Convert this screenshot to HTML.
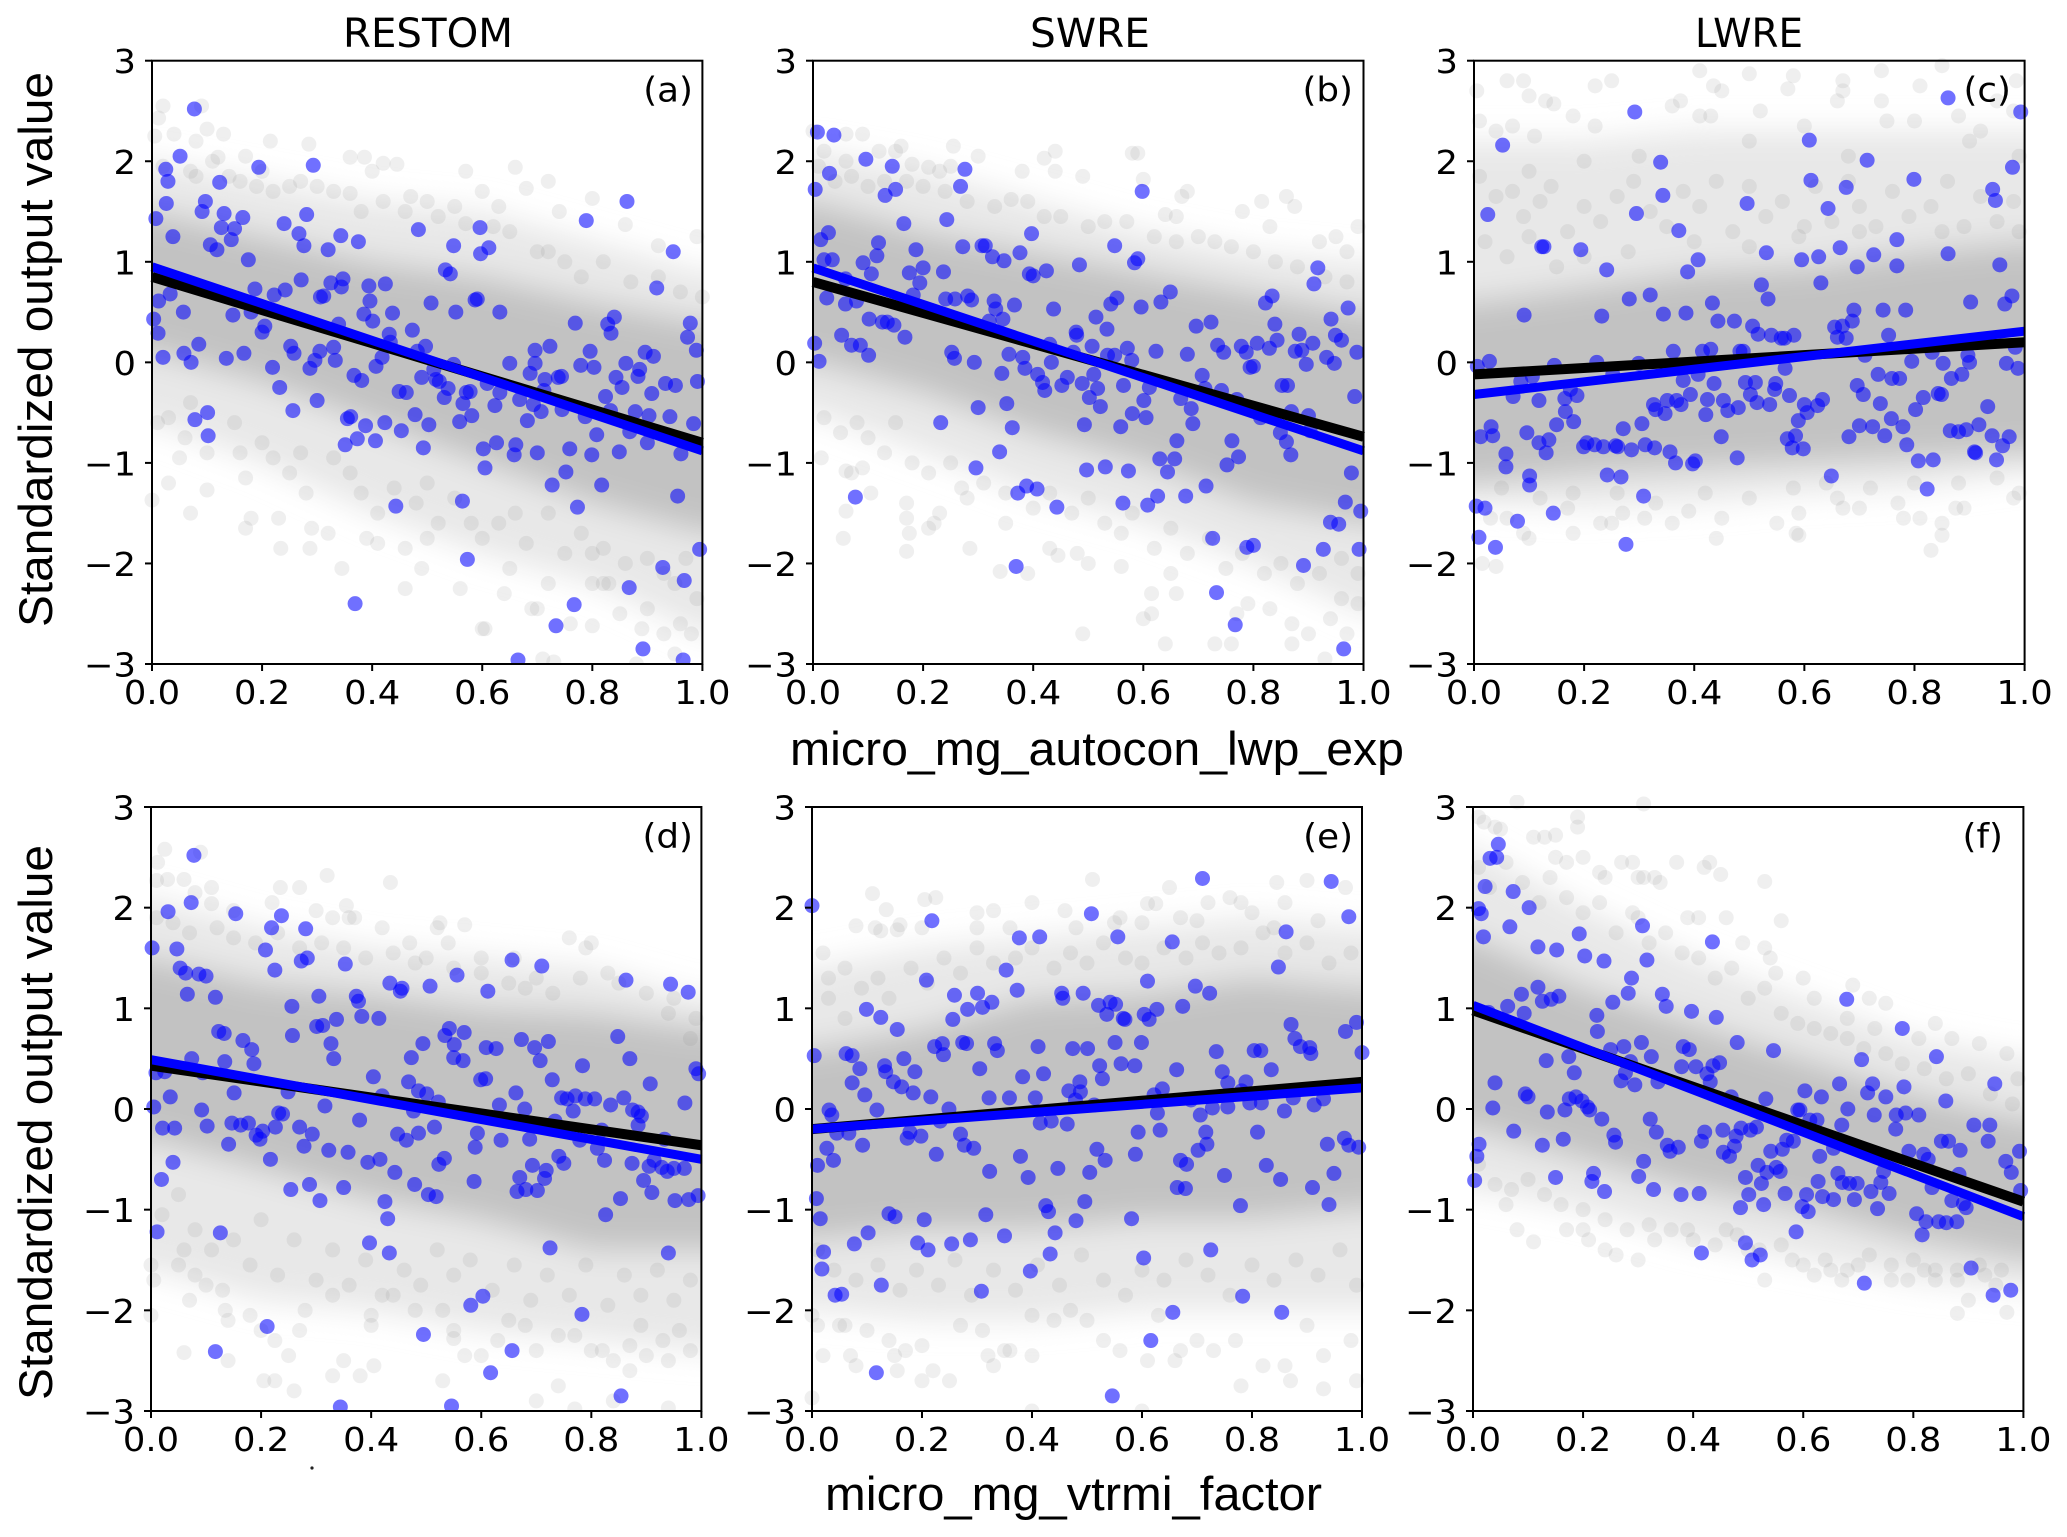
<!DOCTYPE html>
<html lang="en">
<head>
<meta charset="utf-8">
<title>Standardized output value scatter panels</title>
<style>
html,body{margin:0;padding:0;background:#fff;}
svg{display:block;}
text{fill:#000;}
.tick{font-family:"DejaVu Sans","Liberation Sans",sans-serif;font-size:33px;}
.letter{font-family:"DejaVu Sans","Liberation Sans",sans-serif;font-size:34px;}
.title{font-family:"DejaVu Sans","Liberation Sans",sans-serif;font-size:40px;}
.axis{font-family:"Liberation Sans","DejaVu Sans",sans-serif;font-size:47px;}
</style>
</head>
<body>
<svg id="figure" xmlns="http://www.w3.org/2000/svg" width="2067" height="1537" viewBox="0 0 2067 1537">
<defs>
<filter id="soft" filterUnits="userSpaceOnUse" x="0" y="0" width="2067" height="1537"><feGaussianBlur stdDeviation="15"/></filter>
</defs>
<rect width="2067" height="1537" fill="#fff"/>
<g id="panels"></g>
<text class="title" x="343" y="47" textLength="170" lengthAdjust="spacingAndGlyphs">RESTOM</text>
<text class="title" x="1030" y="47" textLength="120" lengthAdjust="spacingAndGlyphs">SWRE</text>
<text class="title" x="1695" y="47" textLength="108" lengthAdjust="spacingAndGlyphs">LWRE</text>
<text class="axis" transform="translate(52,627) rotate(-90)" textLength="555" lengthAdjust="spacingAndGlyphs">Standardized output value</text>
<text class="axis" transform="translate(52,1400) rotate(-90)" textLength="555" lengthAdjust="spacingAndGlyphs">Standardized output value</text>
<text class="axis" x="790" y="765" textLength="614" lengthAdjust="spacingAndGlyphs">micro_mg_autocon_lwp_exp</text>
<text class="axis" x="825" y="1510" textLength="497" lengthAdjust="spacingAndGlyphs">micro_mg_vtrmi_factor</text>
<circle cx="312" cy="1468" r="1.6" fill="#222"/>
</svg>
<script>
const xTicks = [0, 0.2, 0.4, 0.6, 0.8, 1];
const xTickLabels = ["0.0", "0.2", "0.4", "0.6", "0.8", "1.0"];
const yTicks = [-3, -2, -1, 0, 1, 2, 3];
const yTickLabels = ["\u22123", "\u22122", "\u22121", "0", "1", "2", "3"];
const bandX = [0, 0.2, 0.4, 0.6, 0.8, 1];

const lineBlackA = [0.85, -0.8];
const lineBlueA = [0.95, -0.88];
const lineBlackB = [0.8, -0.74];
const lineBlueB = [0.94, -0.88];
const lineBlackC = [-0.12, 0.2];
const lineBlueC = [-0.32, 0.31];
const lineBlackD = [0.43, -0.36];
const lineBlueD = [0.49, -0.5];
const lineBlackE = [-0.2, 0.27];
const lineBlueE = [-0.2, 0.21];
const lineBlackF = [0.98, -0.92];
const lineBlueF = [1.03, -1.07];

const outerHighA = [2.0, 1.8, 1.6, 1.5, 1.2, 0.9];
const outerLowA = [-0.6, -1.0, -1.5, -1.9, -2.2, -2.7];
const innerHighA = [1.5, 1.25, 1.0, 0.85, 0.6, 0.4];
const innerLowA = [0.1, -0.2, -0.6, -1.0, -1.4, -1.7];
const outerHighB = [2.1, 1.9, 1.6, 1.3, 1.1, 1.0];
const outerLowB = [-0.5, -0.9, -1.3, -1.6, -2.0, -2.5];
const innerHighB = [1.6, 1.3, 1.1, 0.9, 0.7, 0.5];
const innerLowB = [0, -0.3, -0.7, -1.0, -1.4, -1.6];
const outerHighC = [2.2, 2.2, 2.3, 2.3, 2.3, 2.3];
const outerLowC = [-1.4, -1.45, -1.4, -1.3, -1.25, -1.1];
const innerHighC = [0.6, 0.75, 0.9, 0.95, 1.1, 1.2];
const innerLowC = [-1.2, -1.1, -1.05, -1.0, -0.95, -0.9];
const outerHighD = [2.1, 1.8, 1.6, 1.5, 1.4, 1.1];
const outerLowD = [-1.6, -1.9, -2.0, -2.2, -2.3, -2.4];
const innerHighD = [1.5, 1.25, 1.15, 1.0, 0.95, 0.8];
const innerLowD = [-0.3, -0.6, -0.9, -1.1, -1.4, -1.4];
const outerHighE = [1.4, 1.6, 1.7, 1.8, 1.9, 1.8];
const outerLowE = [-2.0, -2.1, -2.1, -2.0, -2.0, -2.0];
const innerHighE = [0.6, 0.8, 1.1, 1.15, 1.3, 1.2];
const innerLowE = [-1.3, -1.2, -1.2, -1.1, -1.1, -1.0];
const outerHighF = [2.6, 2.0, 1.5, 1.1, 0.7, 0.5];
const outerLowF = [-0.8, -1.0, -1.3, -1.5, -1.7, -1.8];
const innerHighF = [1.7, 1.2, 0.85, 0.5, 0.15, -0.1];
const innerLowF = [-0.2, -0.5, -0.8, -1.0, -1.3, -1.5];

const grayA = [[.02,2.55],[.005,2.25],[.012,2.43],[.09,2.55],[.1,2.32],[.04,2.27],[.08,2.2],[.13,2.27],[.12,2.04],[.285,2.17],[.215,2.2],[.36,2.04],[.386,2.04],[.42,1.98],[.445,1.97],[.66,1.94],[.57,1.9],[.6,1.7],[.72,1.8],[.68,1.73],[.8,1.63],[.86,1.37],[.74,1.5],[.99,1.25],[.92,1.16],[.55,1.55],[.63,1.55],[.5,1.6],[.4,1.9],[.2,1.9],[.17,2.05],[.11,2.0],[.27,1.8],[.03,-1.2],[0,-1.37],[.07,-1.5],[.1,-1.27],[.05,-.95],[.17,-1.15],[.18,-1.55],[.17,-1.65],[.23,-1.55],[.234,-1.85],[.287,-1.85],[.29,-1.65],[.32,-1.7],[.345,-2.05],[.39,-1.75],[.41,-1.8],[.46,-1.85],[.5,-1.75],[.46,-2.25],[.49,-2.05],[.56,-2.25],[.6,-2.65],[.605,-2.65],[.65,-2.05],[.64,-2.3],[.7,-2.45],[.72,-2.2],[.69,-2.45],[.76,-2.6],[.8,-2.62],[.8,-2.2],[.83,-2.2],[.85,-2.5],[.89,-2.65],[.9,-2.45],[.93,-2.7],[.96,-2.6],[.98,-2.7],[.95,-2.9],[.88,-3],[.71,-2.95],[.73,-2.98],[.82,-2.2],[.58,-1.6],[.66,-1.5],[.8,-1.9],[.95,-2.2],[.99,-2.35]];
const grayMidA = [[.02,1.95],[.07,1.9],[.08,1.85],[.14,1.85],[.16,1.8],[.19,1.75],[.22,1.7],[.25,1.75],[.3,1.75],[.33,1.7],[.36,1.68],[.38,1.5],[.42,1.6],[.46,1.5],[.47,1.65],[.52,1.45],[.57,1.38],[.62,1.35],[.65,1.3],[.7,1.1],[.72,1.1],[.75,1.0],[.78,.85],[.82,1],[.87,.8],[.92,.85],[.96,.7],[1,.65],[.01,-.6],[.03,-.55],[.06,-.75],[.07,-.4],[.1,-.9],[.15,-.6],[.16,-.9],[.2,-.8],[.22,-.95],[.25,-1.1],[.27,-.9],[.28,-1.3],[.33,-.95],[.36,-1.1],[.38,-1.3],[.41,-1.5],[.44,-1.25],[.48,-1.4],[.5,-1.2],[.52,-1.6],[.55,-1.35],[.6,-1.75],[.63,-1.6],[.68,-1.8],[.72,-1.5],[.75,-1.9],[.78,-1.7],[.82,-1.85],[.86,-2.0],[.9,-1.95],[.93,-2.1],[.97,-1.95]];
const grayB = [[0,2.3],[.06,2.27],[.09,2.27],[.02,2.1],[.06,2.0],[.12,2.1],[.15,2.1],[.16,2.15],[.18,1.97],[.21,1.94],[.23,1.9],[.255,2.15],[.3,2.05],[.25,1.95],[.38,1.9],[.44,2.1],[.42,2.03],[.44,1.9],[.49,1.85],[.58,2.08],[.59,2.08],[.6,1.82],[.67,1.65],[.68,1.7],[.64,1.47],[.66,1.45],[.815,1.6],[.86,1.65],[.875,1.55],[.78,1.5],[.83,1.35],[.92,1.2],[.95,1.25],[.99,1.35],[.97,1.1],[.015,-.95],[.06,-1.08],[.07,-1.1],[.09,-1.05],[.105,-1.3],[.06,-1.48],[.055,-1.75],[.17,-1.55],[.17,-1.4],[.175,-1.7],[.17,-1.88],[.22,-1.6],[.23,-1.5],[.21,-1.65],[.285,-1.85],[.28,-1.35],[.35,-1.6],[.34,-2.08],[.39,-2.1],[.43,-1.85],[.445,-1.92],[.48,-1.9],[.5,-2.0],[.56,-2.03],[.49,-2.7],[.6,-2.55],[.615,-2.5],[.615,-2.3],[.64,-2.8],[.65,-2.1],[.66,-2.3],[.73,-2.8],[.76,-2.8],[.77,-2.5],[.79,-2.4],[.83,-2.45],[.87,-2.6],[.87,-2.8],[.9,-2.7],[.94,-2.55],[.96,-2.35],[.97,-2.7],[.99,-2.4],[.93,-2.95]];
const grayMidB = [[.01,1.95],[.04,1.8],[.07,1.85],[.1,1.75],[.13,1.8],[.17,1.8],[.2,1.75],[.24,1.7],[.28,1.6],[.33,1.55],[.36,1.62],[.39,1.6],[.42,1.45],[.45,1.45],[.5,1.35],[.53,1.4],[.57,1.4],[.62,1.25],[.66,1.2],[.7,1.25],[.73,1.2],[.76,1.15],[.8,1.1],[.84,1.0],[.88,.95],[.93,.85],[.97,.8],[.02,-.55],[.05,-.7],[.08,-.6],[.1,-.75],[.13,-.9],[.15,-.6],[.18,-1.0],[.21,-1.1],[.25,-1.0],[.27,-1.25],[.31,-1.2],[.35,-1.3],[.4,-1.45],[.43,-1.3],[.47,-1.5],[.5,-1.35],[.53,-1.6],[.56,-1.7],[.58,-1.5],[.62,-1.85],[.65,-1.65],[.68,-1.9],[.72,-1.75],[.75,-2.05],[.78,-1.9],[.82,-2.1],[.85,-2.0],[.88,-2.2],[.92,-2.1],[.96,-1.95],[.99,-2.1]];
const grayC = [[.005,2.7],[.06,2.8],[.09,2.8],[.1,2.65],[.13,2.6],[.145,2.57],[.01,2.4],[.04,2.3],[.07,2.35],[.11,2.25],[.18,2.45],[.22,2.75],[.25,2.8],[.22,2.35],[.36,2.55],[.375,2.6],[.41,2.45],[.41,2.9],[.43,2.45],[.435,2.75],[.45,2.7],[.5,2.87],[.57,2.72],[.58,2.85],[.52,2.5],[.6,2.35],[.66,2.6],[.67,2.7],[.67,2.8],[.74,2.9],[.74,2.6],[.81,2.75],[.85,2.95],[.75,2.4],[.8,2.4],[.88,2.45],[.92,2.3],[.95,2.6],[.985,2.8],[.98,2.5],[.68,2.05],[.5,2.2],[.3,2.05],[.2,2.0],[.1,1.9],[.9,2.2],[.99,2.05],[.015,-2.0],[.04,-2.03],[.06,-1.55],[.09,-1.7],[.1,-1.75],[.03,-1.55],[.17,-1.45],[.23,-1.6],[.25,-1.6],[.18,-1.7],[.27,-1.5],[.31,-1.55],[.36,-1.6],[.39,-1.48],[.44,-1.75],[.45,-1.55],[.55,-1.6],[.585,-1.7],[.59,-1.72],[.59,-1.5],[.66,-1.35],[.67,-1.45],[.7,-1.45],[.77,-1.4],[.78,-1.55],[.81,-1.55],[.83,-1.87],[.85,-1.6],[.85,-1.72],[.875,-1.45],[.89,-1.45],[.99,-1.3],[.98,-1.35]];
const grayMidC = [[.01,1.85],[.04,1.65],[.07,1.7],[.09,1.45],[.12,1.6],[.14,1.75],[.17,1.3],[.2,1.55],[.23,1.4],[.26,1.65],[.29,1.8],[.32,1.5],[.35,1.35],[.38,1.7],[.41,1.55],[.44,1.8],[.47,1.3],[.5,1.75],[.53,1.45],[.56,1.6],[.59,1.25],[.62,1.75],[.65,1.4],[.68,1.8],[.7,1.55],[.73,1.35],[.76,1.7],[.79,1.45],[.83,1.55],[.86,1.8],[.89,1.35],[.92,1.65],[.95,1.4],[.98,1.6],[.02,1.2],[.06,1.05],[.1,1.25],[.15,.95],[.2,1.05],[.28,1.1],[.4,1.2],[.5,1.15],[.6,1.35],[.7,1.3],[.85,1.3],[.99,1.3],[.05,-1.25],[.12,-1.35],[.18,-1.3],[.26,-1.3],[.33,-1.4],[.42,-1.3],[.5,-1.35],[.58,-1.25],[.64,-1.2],[.72,-1.25],[.8,-1.2],[.88,-1.2],[.95,-1.15]];
const grayD = [[.012,2.45],[.025,2.58],[.01,2.27],[.03,2.28],[.06,2.28],[.09,2.55],[.08,2.15],[.11,2.2],[.11,2.04],[.15,1.97],[.22,2.05],[.235,2.2],[.27,2.2],[.32,2.32],[.3,1.97],[.33,1.9],[.36,1.9],[.355,2.02],[.37,1.9],[.435,2.25],[.42,1.8],[.47,1.65],[.52,1.8],[.525,1.85],[.57,1.83],[.54,1.65],[.6,1.5],[.76,1.7],[.79,1.6],[.8,1.65],[.66,1.5],[.95,1.1],[.99,.9],[.65,1.25],[.7,1.3],[.83,1.35],[0,-1.55],[.005,-1.7],[0,-2.05],[.05,-1.55],[.06,-1.4],[.07,-1.9],[.08,-1.65],[.1,-1.75],[.13,-1.8],[.135,-2.0],[.14,-2.1],[.14,-2.5],[.06,-2.42],[.18,-2.05],[.2,-2.2],[.205,-2.7],[.225,-2.3],[.225,-2.7],[.25,-2.45],[.26,-2.8],[.27,-2.2],[.28,-2.0],[.33,-1.85],[.33,-2.65],[.35,-2.5],[.38,-2.65],[.4,-2.05],[.4,-2.15],[.405,-2.55],[.44,-1.85],[.48,-2.0],[.53,-2.7],[.53,-2.0],[.55,-2.2],[.55,-2.28],[.57,-2.45],[.6,-2.45],[.63,-2.3],[.65,-2.1],[.68,-2.15],[.7,-2.4],[.7,-2.9],[.74,-2.25],[.74,-2.75],[.77,-2.25],[.8,-2.4],[.82,-2.4],[.84,-2.5],[.84,-2.9],[.87,-2.35],[.87,-2.6],[.89,-2.15],[.9,-2.45],[.93,-2.3],[.94,-2.5],[.96,-2.2],[.98,-2.4],[.94,-2.97],[.77,-2.98]];
const grayMidD = [[.01,1.9],[.04,1.85],[.07,1.75],[.12,1.8],[.15,1.7],[.19,1.65],[.23,1.75],[.27,1.6],[.31,1.65],[.35,1.6],[.39,1.5],[.44,1.55],[.48,1.45],[.5,1.5],[.55,1.4],[.6,1.35],[.68,1.2],[.73,1.15],[.78,1.3],[.85,1.25],[.9,1.15],[.94,.95],[.98,.7],[.02,-1.05],[.05,-.85],[.08,-1.2],[.11,-1.4],[.15,-1.3],[.18,-1.55],[.2,-1.1],[.23,-1.65],[.26,-1.3],[.3,-1.7],[.33,-1.4],[.36,-1.75],[.39,-1.5],[.42,-1.85],[.46,-1.6],[.49,-1.75],[.52,-1.4],[.55,-1.65],[.58,-1.5],[.62,-1.8],[.66,-1.55],[.69,-1.9],[.72,-1.65],[.76,-1.85],[.79,-1.55],[.83,-1.95],[.86,-1.65],[.89,-1.85],[.92,-1.6],[.95,-1.9],[.98,-1.7]];
const grayE = [[.11,2.14],[.08,1.82],[.115,1.8],[.125,1.77],[.155,1.78],[.16,1.83],[.2,1.8],[.205,2.08],[.225,2.1],[.135,1.98],[.3,1.8],[.3,1.95],[.33,1.97],[.36,1.8],[.4,2.05],[.46,1.97],[.51,2.28],[.48,1.8],[.55,1.85],[.56,1.9],[.6,1.85],[.61,2.04],[.625,2.04],[.65,2.2],[.67,1.9],[.72,2.05],[.7,1.87],[.76,2.1],[.78,2.05],[.8,1.95],[.84,1.8],[.845,2.25],[.9,2.27],[.86,2.05],[.97,2.2],[.92,1.87],[.02,1.55],[.03,1.3],[.06,1.4],[0,-2.05],[.01,-2.15],[.02,-2.45],[.06,-2.15],[.07,-2.45],[.08,-2.55],[.05,-2.15],[.1,-2.2],[.14,-2.3],[.15,-2.45],[.155,-2.6],[.17,-2.4],[.2,-2.35],[.2,-2.7],[.22,-2.6],[.25,-2.7],[.27,-2.15],[.31,-2.2],[.32,-2.45],[.33,-2.55],[.35,-2.4],[.36,-2.4],[.4,-2.45],[.4,-2.05],[.44,-2.1],[.47,-2.0],[.5,-2.1],[.53,-2.3],[.56,-2.4],[.61,-2.5],[.63,-2.05],[.66,-2.5],[.67,-2.4],[.7,-2.3],[.73,-2.4],[.77,-2.3],[.78,-2.75],[.82,-2.55],[.86,-2.55],[.87,-2.7],[.9,-2.15],[.93,-2.45],[.93,-2.78],[.98,-2.3],[.99,-2.7],[0,-2.87],[.4,-3],[.6,-3]];
const grayMidE = [[.03,1.1],[.06,.9],[.09,1.2],[.12,1.3],[.14,1.1],[.18,1.4],[.21,1.25],[.24,1.5],[.27,1.35],[.3,1.6],[.33,1.45],[.37,1.5],[.4,1.6],[.44,1.4],[.47,1.55],[.5,1.45],[.53,1.65],[.57,1.5],[.6,1.45],[.64,1.6],[.68,1.5],[.71,1.65],[.74,1.55],[.78,1.6],[.82,1.75],[.86,1.55],[.9,1.65],[.94,1.45],[.98,1.55],[.01,-1.4],[.04,-1.6],[.08,-1.7],[.12,-1.55],[.16,-1.8],[.19,-1.6],[.23,-1.75],[.26,-1.5],[.29,-1.85],[.33,-1.6],[.37,-1.8],[.41,-1.55],[.45,-1.75],[.49,-1.45],[.53,-1.7],[.57,-1.85],[.6,-1.6],[.64,-1.7],[.68,-1.5],[.72,-1.65],[.76,-1.85],[.8,-1.55],[.84,-1.7],[.88,-1.5],[.92,-1.65],[.96,-1.4],[.99,-1.75]];
const grayF = [[.08,3.05],[.31,3.03],[.01,2.9],[.02,2.85],[.04,2.8],[.05,2.78],[.19,2.9],[.19,2.8],[.11,2.7],[.13,2.7],[.15,2.72],[.17,2.45],[.2,2.5],[.15,2.5],[.23,2.35],[.24,2.3],[.27,2.45],[.29,2.45],[.3,2.3],[.31,2.3],[.33,2.3],[.34,2.25],[.37,2.45],[.42,2.4],[.43,2.45],[.45,2.33],[.53,2.26],[.56,1.87],[.3,1.9],[.39,1.9],[.41,1.9],[.46,1.9],[.49,1.65],[.53,1.6],[.54,1.5],[.55,1.35],[.6,1.3],[.62,1.1],[.69,1.23],[.72,1.1],[.75,1.05],[.68,.9],[.84,.85],[.73,.8],[.81,.7],[.87,.7],[.92,.65],[.97,.55],[.99,.3],[.06,-.95],[.08,-1.2],[.11,-1.32],[.17,-1.2],[.2,-1.2],[.21,-1.3],[.24,-1.4],[.26,-1.45],[.3,-1.5],[.33,-1.3],[.39,-1.2],[.46,-1.2],[.5,-1.4],[.53,-1.7],[.58,-1.5],[.62,-1.65],[.65,-1.6],[.67,-1.7],[.7,-1.55],[.76,-1.7],[.79,-1.7],[.82,-1.6],[.84,-1.7],[.88,-1.6],[.9,-1.9],[.88,-2.03],[.97,-2.02],[.93,-1.65],[.95,-1.75]];
const grayMidF = [[.01,2.4],[.03,2.2],[.06,2.45],[.09,2.25],[.12,2.05],[.14,2.3],[.17,2.1],[.2,1.95],[.23,2.05],[.26,1.75],[.29,1.95],[.32,1.65],[.35,1.75],[.38,1.55],[.41,1.5],[.44,1.3],[.47,1.4],[.5,1.1],[.53,1.2],[.56,.95],[.59,.85],[.62,.8],[.65,.75],[.68,.7],[.71,.6],[.75,.55],[.78,.45],[.82,.4],[.86,.3],[.9,.35],[.94,.15],[.98,.05],[.01,-.55],[.04,-.75],[.07,-.8],[.1,-.7],[.13,-.85],[.16,-.95],[.2,-1.0],[.24,-1.1],[.28,-1.2],[.32,-1.15],[.36,-1.2],[.4,-1.3],[.44,-1.35],[.48,-1.25],[.52,-1.4],[.56,-1.35],[.6,-1.55],[.64,-1.5],[.68,-1.6],[.72,-1.45],[.76,-1.55],[.8,-1.5],[.84,-1.6],[.88,-1.7],[.92,-1.55],[.96,-1.6]];

const blueA = [[.077,2.52],[.051,2.05],[.025,1.92],[.029,1.8],[.026,1.58],[.007,1.43],[.097,1.6],[.091,1.5],[.123,1.79],[.194,1.94],[.293,1.96],[.038,1.25],[.106,1.17],[.118,1.12],[.126,1.34],[.131,1.48],[.15,1.33],[.144,1.22],[.165,1.44],[.175,1.02],[.24,1.38],[.267,1.28],[.281,1.47],[.276,1.16],[.32,1.12],[.343,1.26],[.375,1.2],[.484,1.32],[.548,1.16],[.596,1.34],[.597,1.08],[.612,1.14],[.863,1.6],[.789,1.41],[.947,1.1],[.917,.74],[.533,.92],[.542,.88],[.271,.82],[.325,.79],[.347,.83],[.344,.75],[.394,.76],[.424,.78],[.187,.73],[.222,.67],[.242,.72],[.306,.65],[.312,.66],[.396,.61],[.507,.59],[.587,.62],[.591,.63],[.632,.5],[.552,.5],[.437,.49],[.385,.48],[.401,.41],[.769,.39],[.828,.38],[.84,.45],[.834,.29],[.978,.39],[.973,.25],[.989,.12],[.012,.61],[.033,.68],[.057,.5],[.003,.43],[.011,.29],[.147,.47],[.18,.5],[.205,.36],[.2,.3],[.339,.38],[.431,.28],[.473,.32],[.252,.16],[.258,.09],[.305,.11],[.33,.15],[.433,.2],[.497,.16],[.482,.11],[.085,.18],[.058,.09],[.167,.09],[.135,.04],[.02,.05],[.071,0],[.219,-.05],[.296,.02],[.333,.02],[.287,-.06],[.418,.05],[.407,-.04],[.548,-.02],[.65,-.01],[.696,.12],[.723,.16],[.696,-.01],[.687,-.11],[.714,-.17],[.744,-.14],[.738,-.15],[.779,-.03],[.803,-.05],[.796,.11],[.861,-.01],[.886,-.07],[.883,-.14],[.896,.1],[.911,.06],[.843,-.15],[.854,-.25],[.933,-.21],[.951,-.23],[.991,-.19],[.908,-.31],[.824,-.34],[.232,-.25],[.367,-.13],[.381,-.18],[.49,-.15],[.512,-.07],[.516,-.17],[.522,-.19],[.538,-.26],[.531,-.35],[.565,-.41],[.571,-.3],[.578,-.29],[.609,-.21],[.632,-.3],[.623,-.43],[.668,-.37],[.693,-.42],[.712,-.28],[.707,-.49],[.745,-.47],[.682,-.58],[.787,-.54],[.449,-.29],[.462,-.3],[.3,-.38],[.256,-.48],[.355,-.56],[.361,-.54],[.423,-.6],[.388,-.63],[.478,-.52],[.503,-.62],[.559,-.59],[.581,-.53],[.833,-.48],[.878,-.49],[.903,-.53],[.941,-.54],[.984,-.61],[.808,-.72],[.868,-.69],[.078,-.57],[.101,-.5],[.102,-.73],[.453,-.68],[.373,-.76],[.406,-.78],[.351,-.82],[.493,-.85],[.602,-.86],[.626,-.8],[.661,-.82],[.658,-.92],[.7,-.9],[.759,-.86],[.799,-.92],[.849,-.89],[.9,-.8],[.961,-.91],[.605,-1.05],[.752,-1.09],[.727,-1.22],[.817,-1.22],[.955,-1.33],[.564,-1.38],[.443,-1.43],[.773,-1.44],[.573,-1.96],[.995,-1.86],[.928,-2.04],[.967,-2.17],[.867,-2.24],[.369,-2.4],[.767,-2.41],[.734,-2.62],[.892,-2.85],[.665,-2.96],[.965,-2.96]];
const blueB = [[.008,2.29],[.038,2.26],[.096,2.02],[.144,1.95],[.03,1.88],[.004,1.72],[.131,1.66],[.15,1.72],[.276,1.92],[.268,1.75],[.598,1.7],[.165,1.38],[.243,1.42],[.397,1.28],[.028,1.29],[.014,1.22],[.119,1.19],[.187,1.12],[.272,1.15],[.307,1.16],[.313,1.16],[.548,1.16],[.02,1.02],[.035,1.02],[.116,1.06],[.091,.99],[.106,.88],[.175,.89],[.2,.94],[.326,1.05],[.347,1.01],[.376,1.09],[.484,.97],[.584,.99],[.59,1.03],[.917,.94],[.91,.78],[.237,.9],[.393,.88],[.4,.86],[.424,.91],[.059,.83],[.194,.79],[.649,.7],[.834,.66],[.822,.59],[.025,.64],[.059,.58],[.079,.61],[.182,.67],[.241,.63],[.258,.63],[.281,.66],[.288,.62],[.329,.61],[.366,.57],[.332,.53],[.552,.64],[.541,.58],[.596,.55],[.632,.6],[.437,.53],[.972,.54],[.941,.43],[.102,.43],[.126,.4],[.135,.4],[.147,.37],[.167,.25],[.345,.43],[.32,.41],[.514,.45],[.534,.33],[.723,.4],[.696,.36],[.839,.38],[.883,.28],[.949,.27],[.96,.22],[.052,.27],[.003,.19],[.07,.17],[.086,.17],[.478,.3],[.479,.27],[.843,.22],[.807,.19],[.908,.19],[.735,.17],[.778,.16],[.507,.16],[.571,.14],[.43,.18],[.787,.1],[.746,.1],[.829,.14],[.876,.11],[.888,.12],[.988,.1],[.623,.11],[.68,.08],[.101,.07],[.011,.01],[.252,.1],[.257,.04],[.293,0],[.356,.08],[.381,.05],[.433,0],[.473,.1],[.535,.07],[.548,.07],[.579,.02],[.933,.05],[.896,-.02],[.947,-.01],[.794,-.05],[.8,-.04],[.343,-.11],[.385,-.06],[.408,-.12],[.462,-.15],[.51,-.12],[.707,-.13],[.417,-.2],[.421,-.28],[.452,-.23],[.489,-.21],[.517,-.26],[.564,-.23],[.611,-.25],[.712,-.26],[.742,-.28],[.852,-.23],[.862,-.23],[.502,-.35],[.522,-.44],[.601,-.38],[.668,-.36],[.687,-.46],[.69,-.61],[.77,-.37],[.984,-.34],[.3,-.45],[.352,-.41],[.58,-.51],[.605,-.55],[.869,-.49],[.9,-.53],[.813,-.55],[.232,-.6],[.362,-.65],[.493,-.62],[.559,-.64],[.849,-.7],[.86,-.79],[.903,-.68],[.661,-.78],[.761,-.78],[.339,-.89],[.63,-.96],[.657,-.96],[.773,-.94],[.868,-.92],[.296,-1.05],[.497,-1.07],[.531,-1.04],[.573,-1.08],[.644,-1.09],[.752,-1.02],[.978,-1.1],[.388,-1.23],[.407,-1.26],[.372,-1.3],[.714,-1.23],[.077,-1.34],[.626,-1.33],[.677,-1.33],[.563,-1.4],[.608,-1.42],[.967,-1.39],[.443,-1.44],[.995,-1.48],[.94,-1.59],[.955,-1.61],[.726,-1.75],[.788,-1.84],[.8,-1.82],[.927,-1.86],[.992,-1.86],[.369,-2.03],[.891,-2.02],[.733,-2.29],[.767,-2.61],[.964,-2.85]];
const blueC = [[.861,2.63],[.292,2.49],[.993,2.49],[.052,2.16],[.609,2.21],[.339,1.99],[.714,2.01],[.612,1.81],[.799,1.82],[.676,1.74],[.978,1.94],[.942,1.72],[.947,1.61],[.343,1.66],[.496,1.58],[.643,1.53],[.025,1.47],[.295,1.48],[.372,1.31],[.123,1.15],[.127,1.15],[.194,1.12],[.665,1.14],[.768,1.22],[.861,1.08],[.531,1.09],[.595,1.02],[.626,1.05],[.726,1.07],[.407,1.02],[.696,.95],[.768,.96],[.955,.97],[.241,.92],[.388,.9],[.63,.79],[.522,.77],[.534,.63],[.32,.67],[.282,.63],[.902,.6],[.977,.66],[.964,.58],[.433,.59],[.091,.47],[.232,.46],[.344,.48],[.385,.49],[.69,.52],[.743,.52],[.784,.52],[.443,.41],[.473,.41],[.687,.41],[.506,.36],[.655,.35],[.669,.36],[.516,.28],[.54,.27],[.558,.24],[.564,.24],[.581,.27],[.66,.25],[.676,.24],[.753,.27],[.362,.11],[.415,.11],[.43,.13],[.483,.11],[.489,.11],[.832,.1],[.983,.15],[.897,.07],[.028,.01],[.223,0],[.71,.07],[.795,.01],[.852,-.01],[.9,0],[.967,-.01],[.006,-.04],[.146,-.03],[.565,-.06],[.988,-.06],[.252,-.12],[.299,-.01],[.407,-.12],[.734,-.12],[.867,-.16],[.886,-.12],[.759,-.16],[.773,-.16],[.085,-.19],[.106,-.14],[.38,-.18],[.436,-.21],[.493,-.2],[.511,-.2],[.548,-.21],[.696,-.23],[.175,-.27],[.187,-.33],[.071,-.34],[.165,-.36],[.118,-.38],[.393,-.32],[.424,-.37],[.453,-.38],[.502,-.32],[.546,-.27],[.573,-.33],[.514,-.4],[.537,-.42],[.707,-.32],[.843,-.31],[.849,-.32],[.816,-.35],[.351,-.38],[.326,-.42],[.368,-.38],[.376,-.42],[.633,-.37],[.6,-.42],[.624,-.43],[.738,-.41],[.933,-.44],[.33,-.47],[.347,-.51],[.166,-.49],[.421,-.52],[.461,-.48],[.48,-.45],[.605,-.5],[.802,-.47],[.589,-.58],[.181,-.59],[.15,-.62],[.305,-.61],[.758,-.56],[.031,-.64],[.271,-.66],[.7,-.63],[.724,-.64],[.779,-.64],[.917,-.62],[.865,-.68],[.894,-.67],[.88,-.69],[.096,-.7],[.012,-.74],[.034,-.73],[.136,-.77],[.118,-.8],[.449,-.74],[.569,-.76],[.584,-.73],[.681,-.74],[.746,-.73],[.941,-.73],[.972,-.74],[.199,-.84],[.205,-.8],[.219,-.82],[.235,-.84],[.257,-.83],[.261,-.84],[.286,-.87],[.311,-.82],[.328,-.85],[.356,-.89],[.578,-.85],[.598,-.86],[.786,-.82],[.96,-.83],[.058,-.91],[.131,-.9],[.366,-1],[.397,-1.01],[.402,-.98],[.478,-.95],[.807,-.98],[.834,-.97],[.909,-.89],[.911,-.9],[.949,-.97],[.058,-1.04],[.242,-1.12],[.267,-1.14],[.101,-1.13],[.101,-1.22],[.649,-1.13],[.823,-1.26],[.308,-1.33],[.004,-1.43],[.02,-1.45],[.144,-1.5],[.079,-1.58],[.009,-1.74],[.039,-1.84],[.276,-1.81]];
const blueD = [[.078,2.52],[.073,2.05],[.031,1.96],[.154,1.94],[.237,1.92],[.219,1.8],[.281,1.79],[.002,1.6],[.047,1.59],[.208,1.58],[.273,1.47],[.284,1.5],[.353,1.44],[.053,1.4],[.063,1.35],[.087,1.34],[.1,1.32],[.225,1.38],[.656,1.48],[.71,1.42],[.556,1.33],[.434,1.25],[.507,1.22],[.944,1.24],[.863,1.28],[.453,1.17],[.456,1.2],[.612,1.17],[.976,1.16],[.066,1.14],[.117,1.11],[.305,1.12],[.373,1.12],[.377,1.07],[.256,1.02],[.383,.92],[.414,.9],[.337,.89],[.301,.82],[.312,.83],[.542,.8],[.534,.73],[.569,.76],[.123,.77],[.133,.75],[.257,.73],[.848,.72],[.167,.68],[.183,.59],[.327,.65],[.494,.65],[.551,.64],[.673,.69],[.697,.61],[.722,.67],[.609,.61],[.627,.6],[.074,.5],[.134,.47],[.187,.45],[.332,.5],[.473,.51],[.55,.51],[.567,.48],[.707,.48],[.784,.43],[.87,.5],[.009,.36],[.025,.37],[.094,.36],[.404,.32],[.729,.29],[.599,.29],[.608,.3],[.907,.25],[.99,.4],[.995,.35],[.468,.27],[.035,.12],[.151,.16],[.249,.17],[.486,.18],[.501,.15],[.42,.13],[.663,.16],[.746,.11],[.756,.1],[.771,.13],[.789,.1],[.806,.1],[.859,.11],[.005,.02],[.316,.03],[.522,.07],[.633,.04],[.835,.04],[.97,.06],[.092,-.01],[.679,0],[.767,-.02],[.875,-.01],[.885,-.03],[.891,-.07],[.232,-.04],[.239,-.05],[.477,-.02],[.102,-.17],[.021,-.19],[.043,-.19],[.147,-.14],[.163,-.16],[.177,-.14],[.226,-.18],[.27,-.18],[.379,-.11],[.515,-.18],[.734,-.12],[.885,-.16],[.203,-.22],[.191,-.26],[.198,-.3],[.293,-.25],[.448,-.25],[.464,-.31],[.486,-.24],[.593,-.24],[.636,-.31],[.688,-.3],[.779,-.31],[.819,-.21],[.933,-.3],[.141,-.35],[.278,-.37],[.589,-.38],[.811,-.39],[.323,-.41],[.358,-.43],[.741,-.47],[.75,-.54],[.824,-.51],[.04,-.53],[.217,-.5],[.394,-.53],[.416,-.5],[.533,-.49],[.523,-.55],[.693,-.56],[.718,-.61],[.874,-.54],[.905,-.57],[.914,-.51],[.928,-.58],[.938,-.62],[.95,-.59],[.969,-.59],[.019,-.7],[.443,-.63],[.67,-.68],[.715,-.69],[.895,-.71],[.288,-.75],[.254,-.8],[.35,-.78],[.479,-.75],[.587,-.72],[.665,-.82],[.681,-.8],[.702,-.81],[.504,-.85],[.518,-.87],[.91,-.83],[.853,-.89],[.952,-.91],[.977,-.9],[.994,-.86],[.307,-.91],[.425,-.92],[.43,-1.09],[.826,-1.05],[.011,-1.22],[.126,-1.23],[.397,-1.33],[.725,-1.38],[.433,-1.43],[.94,-1.43],[.603,-1.86],[.581,-1.95],[.783,-2.04],[.211,-2.16],[.495,-2.24],[.117,-2.41],[.656,-2.4],[.617,-2.62],[.854,-2.85],[.344,-2.96],[.546,-2.95]];
const blueE = [[.71,2.29],[.944,2.26],[0,2.02],[.218,1.87],[.508,1.94],[.976,1.91],[.377,1.7],[.414,1.71],[.556,1.71],[.655,1.66],[.862,1.76],[.848,1.41],[.353,1.38],[.208,1.28],[.61,1.27],[.373,1.18],[.697,1.22],[.723,1.15],[.259,1.13],[.301,1.15],[.454,1.15],[.456,1.1],[.493,1.15],[.521,1.03],[.327,1.06],[.542,1.06],[.552,1.04],[.31,1.01],[.283,.99],[.627,.99],[.674,1.02],[.099,.99],[.125,.91],[.536,.94],[.256,.89],[.604,.94],[.613,.89],[.566,.9],[.569,.89],[.155,.79],[.871,.84],[.99,.86],[.97,.77],[.878,.7],[.274,.66],[.281,.65],[.223,.62],[.237,.65],[.332,.65],[.411,.62],[.551,.66],[.599,.66],[.062,.55],[.073,.53],[.004,.53],[.239,.54],[.337,.58],[.474,.6],[.501,.6],[.735,.57],[.804,.58],[.816,.58],[.888,.62],[.905,.61],[.907,.55],[1,.56],[.167,.5],[.087,.4],[.132,.43],[.134,.37],[.305,.4],[.187,.37],[.562,.45],[.523,.43],[.587,.43],[.663,.39],[.835,.39],[.746,.37],[.383,.32],[.421,.35],[.528,.3],[.073,.26],[.148,.27],[.163,.22],[.184,.16],[.487,.27],[.756,.26],[.789,.27],[.096,.14],[.216,.12],[.322,.11],[.359,.11],[.406,.11],[.467,.18],[.488,.17],[.479,.09],[.637,.2],[.622,.14],[.781,.18],[.875,.11],[.689,.09],[.796,.06],[.817,.06],[.93,.1],[.756,.02],[.728,.01],[.913,.04],[.031,-.01],[.118,-.01],[.249,0],[.513,.04],[.036,-.06],[.628,-.04],[.706,-.06],[.859,-.02],[.233,-.12],[.415,-.14],[.435,-.12],[.464,-.15],[.045,-.24],[.067,-.24],[.178,-.23],[.173,-.29],[.198,-.27],[.27,-.25],[.593,-.23],[.633,-.21],[.716,-.23],[.81,-.23],[.968,-.29],[.027,-.39],[.092,-.36],[.277,-.36],[.294,-.39],[.518,-.4],[.718,-.35],[.702,-.41],[.937,-.35],[.976,-.36],[.994,-.38],[.039,-.51],[.01,-.56],[.226,-.45],[.379,-.47],[.588,-.45],[.67,-.51],[.681,-.55],[.533,-.51],[.447,-.59],[.505,-.63],[.323,-.62],[.826,-.56],[.949,-.64],[.393,-.68],[.75,-.66],[.852,-.7],[.664,-.78],[.679,-.79],[.91,-.78],[.008,-.89],[.496,-.92],[.425,-.96],[.43,-1.02],[.779,-.96],[.94,-.95],[.015,-1.09],[.14,-1.04],[.151,-1.07],[.204,-1.1],[.316,-1.05],[.48,-1.11],[.581,-1.09],[.102,-1.23],[.442,-1.23],[.35,-1.26],[.077,-1.34],[.192,-1.33],[.211,-1.4],[.254,-1.34],[.288,-1.3],[.021,-1.42],[.725,-1.4],[.433,-1.44],[.603,-1.48],[.018,-1.59],[.397,-1.61],[.126,-1.75],[.308,-1.81],[.042,-1.85],[.054,-1.84],[.783,-1.86],[.656,-2.02],[.854,-2.02],[.616,-2.3],[.117,-2.62],[.546,-2.85]];
const blueF = [[.046,2.63],[.031,2.49],[.043,2.5],[.022,2.21],[.073,2.16],[.01,1.99],[.015,1.94],[.102,2.0],[.067,1.81],[.019,1.71],[.308,1.82],[.193,1.74],[.435,1.66],[.118,1.61],[.152,1.58],[.203,1.52],[.238,1.47],[.316,1.48],[.288,1.3],[.118,1.21],[.088,1.14],[.282,1.15],[.344,1.14],[.126,1.07],[.142,1.09],[.156,1.12],[.254,1.06],[.679,1.09],[.063,1.02],[.351,1.02],[.397,.97],[.093,.95],[.028,.96],[.225,.93],[.442,.91],[.226,.77],[.48,.66],[.78,.8],[.306,.66],[.274,.62],[.25,.59],[.382,.62],[.393,.59],[.546,.58],[.842,.52],[.174,.52],[.133,.48],[.324,.52],[.286,.47],[.706,.49],[.448,.46],[.379,.42],[.405,.42],[.436,.43],[.184,.36],[.277,.36],[.425,.35],[.666,.25],[.726,.25],[.948,.25],[.04,.26],[.269,.28],[.294,.24],[.336,.27],[.431,.27],[.783,.22],[.603,.18],[.717,.16],[.633,.12],[.75,.12],[.095,.15],[.1,.12],[.469,.12],[.532,.1],[.859,.08],[.175,.1],[.187,.12],[.198,.08],[.208,.02],[.212,-.01],[.036,.01],[.167,-.01],[.135,-.03],[.59,-.01],[.594,-.01],[.681,0],[.729,-.06],[.769,-.06],[.786,-.04],[.81,-.06],[.234,-.1],[.322,-.1],[.612,-.11],[.625,-.11],[.67,-.16],[.91,-.16],[.939,-.16],[.074,-.22],[.333,-.23],[.421,-.23],[.454,-.21],[.487,-.19],[.504,-.21],[.515,-.18],[.768,-.2],[.256,-.26],[.164,-.3],[.415,-.32],[.478,-.27],[.57,-.31],[.582,-.32],[.851,-.32],[.864,-.32],[.936,-.32],[.011,-.35],[.126,-.36],[.259,-.33],[.353,-.36],[.373,-.38],[.475,-.37],[.562,-.4],[.655,-.39],[.007,-.47],[.358,-.42],[.455,-.43],[.466,-.47],[.541,-.42],[.63,-.47],[.792,-.42],[.819,-.45],[.827,-.5],[.885,-.41],[.993,-.42],[.31,-.52],[.518,-.56],[.551,-.58],[.968,-.52],[.534,-.63],[.558,-.62],[.746,-.62],[.978,-.63],[.219,-.64],[.15,-.68],[.301,-.67],[.495,-.68],[.663,-.64],[.883,-.65],[.003,-.71],[.216,-.72],[.627,-.72],[.524,-.74],[.671,-.73],[.684,-.74],[.698,-.74],[.741,-.73],[.834,-.78],[.239,-.82],[.328,-.8],[.378,-.85],[.411,-.84],[.501,-.85],[.567,-.84],[.606,-.85],[.723,-.82],[.756,-.84],[.995,-.81],[.635,-.87],[.655,-.9],[.693,-.9],[.87,-.91],[.528,-.95],[.486,-.98],[.598,-.97],[.609,-1.02],[.735,-.99],[.891,-.94],[.896,-.98],[.806,-1.04],[.823,-1.12],[.846,-1.12],[.86,-1.13],[.879,-1.12],[.587,-1.22],[.816,-1.25],[.495,-1.33],[.415,-1.43],[.522,-1.45],[.507,-1.5],[.905,-1.58],[.711,-1.73],[.945,-1.85],[.977,-1.8]];

const SVGNS = 'http://www.w3.org/2000/svg';
const root = document.getElementById('panels');

function make(tag, parent, attrs) {
  const el = document.createElementNS(SVGNS, tag);
  for (const k in attrs) el.setAttribute(k, attrs[k]);
  parent.appendChild(el);
  return el;
}

function widen(el, factor) {
  el.setAttribute('textLength', el.getComputedTextLength() * factor);
  el.setAttribute('lengthAdjust', 'spacingAndGlyphs');
}

function bandPath(high, low, sx, sy) {
  let d = 'M' + sx(-0.1) + ' ' + sy(high[0]);
  bandX.forEach(function (x, i) { d += 'L' + sx(x) + ' ' + sy(high[i]); });
  d += 'L' + sx(1.1) + ' ' + sy(high[high.length - 1]);
  d += 'L' + sx(1.1) + ' ' + sy(low[low.length - 1]);
  for (let i = bandX.length - 1; i >= 0; i--) d += 'L' + sx(bandX[i]) + ' ' + sy(low[i]);
  d += 'L' + sx(-0.1) + ' ' + sy(low[0]) + 'Z';
  return d;
}

function drawPanel(p) {
  const sx = function (v) { return p.left + (p.right - p.left) * v; };
  const sy = function (v) { return p.bottom - (p.bottom - p.top) * (v + 3) / 6; };

  const g = make('g', root, {});
  
  

  const clip = make('clipPath', g, { id: 'clip-' + p.id });
  make('rect', clip, { x: p.left, y: p.top, width: p.right - p.left, height: p.bottom - p.top });
  const clipPts = make('clipPath', g, { id: 'clip-pts-' + p.id });
  make('rect', clipPts, { x: p.left - 8, y: p.top - 12, width: p.right - p.left + 16, height: p.bottom - p.top + 12 });

  const bands = make('g', g, { 'clip-path': 'url(#clip-' + p.id + ')' });
  const soft = make('g', bands, { filter: 'url(#soft)' });
  const outer = make('path', soft, { d: bandPath(p.outerHigh, p.outerLow, sx, sy), fill: '#e8e8e8' });
  
  
  const inner = make('path', soft, { d: bandPath(p.innerHigh, p.innerLow, sx, sy), fill: '#c2c2c2' });
  
  

  const pts = make('g', g, { 'clip-path': 'url(#clip-pts-' + p.id + ')' });
  p.gray.forEach(function (d) {
    const c = make('circle', pts, { cx: sx(d[0]), cy: sy(d[1]), r: 7.5, fill: '#808080', 'fill-opacity': 0.13 });
    
    
  });
  p.grayMid.forEach(function (d) {
    const c = make('circle', pts, { cx: sx(d[0]), cy: sy(d[1]), r: 7.5, fill: '#808080', 'fill-opacity': 0.13 });
    
    
  });
  p.blue.forEach(function (d) {
    const c = make('circle', pts, { cx: sx(d[0]), cy: sy(d[1]), r: 7.5, fill: '#0000ff', 'fill-opacity': 0.56 });
    
    
  });

  const black = make('line', g, { x1: sx(0), y1: sy(p.lineBlack[0]), x2: sx(1), y2: sy(p.lineBlack[1]), stroke: '#000', 'stroke-width': 10 });
  
  
  const blue = make('line', g, { x1: sx(0), y1: sy(p.lineBlue[0]), x2: sx(1), y2: sy(p.lineBlue[1]), stroke: '#0000ff', 'stroke-width': 9 });
  
  

  const frame = make('rect', g, { x: p.left, y: p.top, width: p.right - p.left, height: p.bottom - p.top, fill: 'none', stroke: '#000', 'stroke-width': 2 });
  
  

  xTicks.forEach(function (v, i) {
    const t = make('line', g, { x1: sx(v), x2: sx(v), y1: p.bottom, y2: p.bottom + 7, stroke: '#000', 'stroke-width': 2 });
    
    
    const l = make('text', g, { x: sx(v), y: p.bottom + 40, 'text-anchor': 'middle', class: 'tick' });
    
    
    l.textContent = xTickLabels[i];
    widen(l, 1.07);
  });
  yTicks.forEach(function (v, i) {
    const t = make('line', g, { x1: p.left - 7, x2: p.left, y1: sy(v), y2: sy(v), stroke: '#000', 'stroke-width': 2 });
    
    
    const l = make('text', g, { x: p.left - 16, y: sy(v) + 12.5, 'text-anchor': 'end', class: 'tick' });
    
    
    l.textContent = yTickLabels[i];
    widen(l, 1.07);
  });

  const tag = make('text', g, { x: p.tagX, y: p.top + 41, 'text-anchor': 'end', class: 'letter' });
  
  
  tag.textContent = '(' + p.id + ')';
  widen(tag, 1.05);
}

drawPanel({ id: 'a', left: 152, right: 702.4, top: 60.7, bottom: 664, tagX: 693, gray: grayA, grayMid: grayMidA, blue: blueA, lineBlack: lineBlackA, lineBlue: lineBlueA, outerHigh: outerHighA, outerLow: outerLowA, innerHigh: innerHighA, innerLow: innerLowA });
drawPanel({ id: 'b', left: 813, right: 1363.5, top: 60.7, bottom: 664, tagX: 1353, gray: grayB, grayMid: grayMidB, blue: blueB, lineBlack: lineBlackB, lineBlue: lineBlueB, outerHigh: outerHighB, outerLow: outerLowB, innerHigh: innerHighB, innerLow: innerLowB });
drawPanel({ id: 'c', left: 1474, right: 2024.6, top: 60.7, bottom: 664, tagX: 2011, gray: grayC, grayMid: grayMidC, blue: blueC, lineBlack: lineBlackC, lineBlue: lineBlueC, outerHigh: outerHighC, outerLow: outerLowC, innerHigh: innerHighC, innerLow: innerLowC });
drawPanel({ id: 'd', left: 151, right: 701.4, top: 807, bottom: 1411, tagX: 693, gray: grayD, grayMid: grayMidD, blue: blueD, lineBlack: lineBlackD, lineBlue: lineBlueD, outerHigh: outerHighD, outerLow: outerLowD, innerHigh: innerHighD, innerLow: innerLowD });
drawPanel({ id: 'e', left: 812, right: 1362, top: 807, bottom: 1411, tagX: 1353, gray: grayE, grayMid: grayMidE, blue: blueE, lineBlack: lineBlackE, lineBlue: lineBlueE, outerHigh: outerHighE, outerLow: outerLowE, innerHigh: innerHighE, innerLow: innerLowE });
drawPanel({ id: 'f', left: 1473, right: 2023.4, top: 807, bottom: 1411, tagX: 2003, gray: grayF, grayMid: grayMidF, blue: blueF, lineBlack: lineBlackF, lineBlue: lineBlueF, outerHigh: outerHighF, outerLow: outerLowF, innerHigh: innerHighF, innerLow: innerLowF });
</script>
</body>
</html>
